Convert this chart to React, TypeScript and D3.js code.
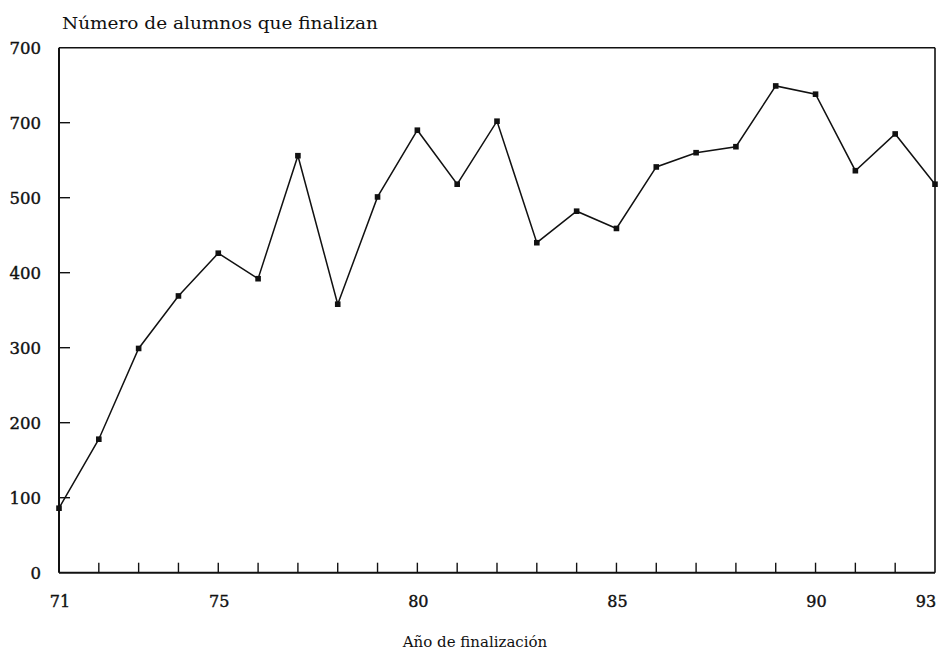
import React from "react";
import * as d3 from "d3";

const years = [71,72,73,74,75,76,77,78,79,80,81,82,83,84,85,86,87,88,89,90,91,92,93];
const alumnos = [86,178,299,369,426,392,556,358,501,590,518,602,440,482,459,541,560,568,649,638,536,585,518];
const yTickValues = [0,100,200,300,400,500,600,700];
const yTickLabels = ["0","100","200","300","400","500","700","700"];
const xLabelYears = [71,75,80,85,90,93];
const title = "Número de alumnos que finalizan";
const xTitle = "Año de finalización";

export default function App() {
  const W = 940, H = 655;
  const left = 59, right = 935, top = 47.7, bottom = 572.7;
  const x = d3.scaleLinear().domain([71, 93]).range([left, right]);
  const y = d3.scaleLinear().domain([0, 700]).range([bottom, top]);
  const line = d3.line<number>().x((_, i) => x(years[i])).y((d) => y(d));
  const font = "'DejaVu Serif', 'Liberation Serif', serif";
  const labelX = (yr: number) => (yr === 93 ? x(yr) - 9 : x(yr) + 1);
  return (
    <svg width={W} height={H} style={{ position: "absolute", left: 0, top: 0, background: "#fff" }}>
      <text x={62} y={29} fontFamily={font} fontSize={16} fill="#111" textLength={316} lengthAdjust="spacingAndGlyphs">{title}</text>
      {/* frame */}
      <line x1={left} x2={right} y1={top} y2={top} stroke="#111" strokeWidth={1.6} />
      <line x1={right} x2={right} y1={top} y2={bottom} stroke="#111" strokeWidth={1.6} />
      <line x1={left} x2={left} y1={top} y2={bottom} stroke="#111" strokeWidth={2} />
      <line x1={left} x2={right} y1={bottom} y2={bottom} stroke="#111" strokeWidth={2} />
      {yTickValues.map((v, i) => (
        <g key={"y" + v}>
          {v > 0 && v < 700 && (
            <line x1={left} x2={left + 11} y1={y(v)} y2={y(v)} stroke="#111" strokeWidth={1.4} />
          )}
          <text x={41} y={y(v) + 6} textAnchor="end" fontFamily={font} fontSize={16.5} fill="#111" stroke="#111" strokeWidth={0.4}>
            {yTickLabels[i]}
          </text>
        </g>
      ))}
      {years.slice(1, -1).map((yr) => (
        <line key={"xt" + yr} x1={x(yr)} x2={x(yr)} y1={bottom} y2={bottom - 10} stroke="#111" strokeWidth={1.4} />
      ))}
      {xLabelYears.map((yr) => (
        <text key={"xl" + yr} x={labelX(yr)} y={607} textAnchor="middle" fontFamily={font} fontSize={16} fill="#111" stroke="#111" strokeWidth={0.4}>
          {yr}
        </text>
      ))}
      <text x={475} y={647} textAnchor="middle" fontFamily={font} fontSize={15} fill="#111">{xTitle}</text>
      <path d={line(alumnos) || ""} fill="none" stroke="#111" strokeWidth={1.5} />
      {alumnos.map((v, i) => (
        <rect key={"m" + i} x={x(years[i]) - 2.8} y={y(v) - 2.8} width={5.6} height={5.6} fill="#111" />
      ))}
    </svg>
  );
}
